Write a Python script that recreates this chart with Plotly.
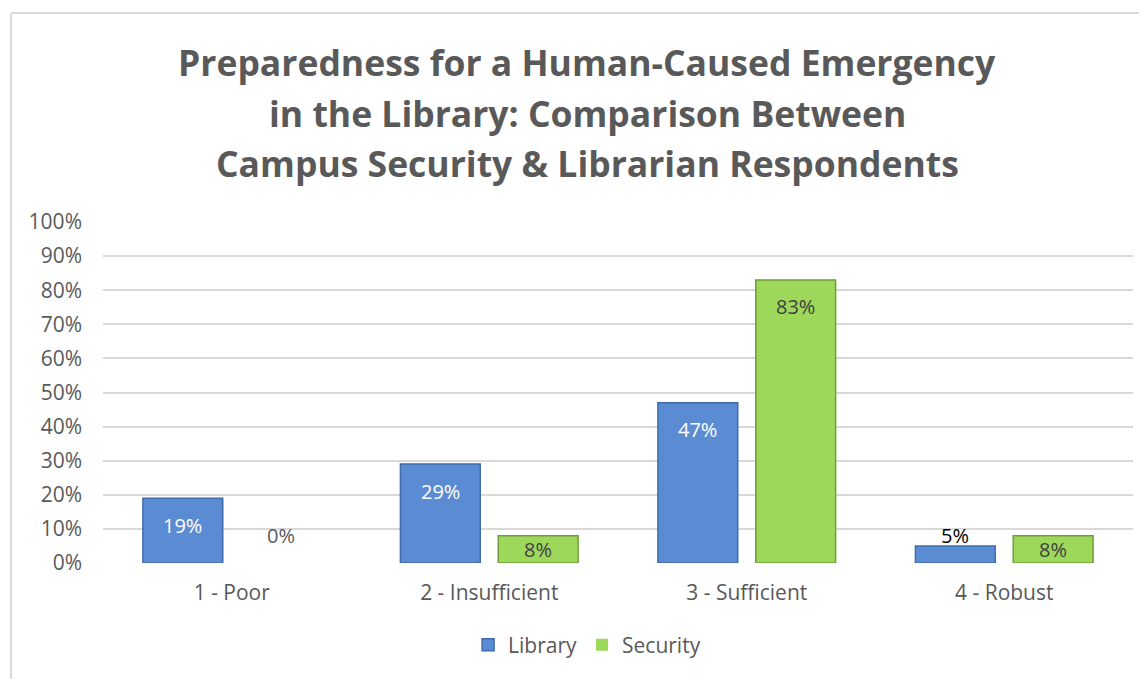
import plotly.graph_objects as go

categories = ["1 - Poor", "2 - Insufficient", "3 - Sufficient", "4 - Robust"]
library = [0.19, 0.29, 0.47, 0.05]
security = [0.00, 0.08, 0.83, 0.08]
title_lines = [
    "Preparedness for a Human-Caused Emergency",
    "in the Library: Comparison Between",
    "Campus Security & Librarian Respondents",
]
y_ticks = [i / 10 for i in range(11)]

W, H = 1147, 679
OFF = 8  # default page body margin
ML, MR, MT, MB = 103 - OFF, 14 + OFF, 222 - OFF, 116 + OFF
PH = H - MT - MB  # plot height in px
PW = W - ML - MR
BASE = H - MB     # baseline px in figure coords

FONT = "Open Sans"
GRAY = "#595959"
BAR_W = 0.31
series = [
    dict(name="Library", vals=library, offset=-0.345, color="#5B8CD3", line="#3F6BAA",
         in_col="#FFFFFF", out_col="#000000"),
    dict(name="Security", vals=security, offset=0.035, color="#9DD85B", line="#6E9E3A",
         in_col="#404040", out_col=GRAY),
]

xs = list(range(len(categories)))
fig = go.Figure()
annotations = []
for s in series:
    fig.add_trace(go.Bar(
        x=xs, y=s["vals"], name=s["name"], width=BAR_W, offset=s["offset"],
        marker=dict(color=s["color"],
                    line=dict(color=s["line"], width=[1.5 if v > 0 else 0 for v in s["vals"]])),
        hoverinfo="skip",
    ))
    for i, v in enumerate(s["vals"]):
        h = v * PH
        cx = i + s["offset"] + BAR_W / 2
        if h >= 50:
            y, ys, col = v, -27, s["in_col"]
        elif h >= 25:
            y, ys, col = v / 2, 0, s["in_col"]
        else:
            y, ys, col = 0, 28, s["out_col"]
        annotations.append(dict(
            x=cx, y=y, xref="x", yref="y", yshift=ys, text=f"{round(v*100)}%",
            showarrow=False, yanchor="middle", xanchor="center",
            font=dict(family=FONT, size=20, color=col),
        ))

title_px = [62, 113, 163]
title_cx = (587 - OFF - ML) / PW
for line, py in zip(title_lines, title_px):
    annotations.append(dict(
        x=title_cx, xref="paper", y=(BASE - (py - OFF)) / PH, yref="paper",
        text=f"<b>{line}</b>",
        showarrow=False, xanchor="center", yanchor="middle",
        font=dict(family=FONT, size=35.5, color=GRAY),
    ))

border_x = (11 - OFF - ML) / PW
border_y = (BASE - (13 - OFF)) / PH
shapes = [
    dict(type="line", xref="paper", yref="paper", x0=border_x, x1=border_x,
         y0=-1, y1=border_y, line=dict(color="#D9D9D9", width=2)),
    dict(type="line", xref="paper", yref="paper", x0=border_x, x1=1.2,
         y0=border_y, y1=border_y, line=dict(color="#D9D9D9", width=2)),
]

fig.update_layout(
    width=W, height=H,
    margin=dict(l=ML, r=MR, t=MT, b=MB),
    paper_bgcolor="white", plot_bgcolor="white",
    barmode="overlay",
    showlegend=True,
    legend=dict(orientation="h", x=0.47, xanchor="center", y=(BASE - (645 - OFF)) / PH,
                yanchor="middle", font=dict(family=FONT, size=21, color=GRAY),
                itemwidth=30, traceorder="normal"),
    annotations=annotations,
    shapes=shapes,
    font=dict(family=FONT, color=GRAY),
)
fig.update_xaxes(range=[-0.5, len(categories) - 0.5], tickvals=xs, ticktext=categories,
                 showgrid=False, zeroline=False, showline=False, ticks="",
                 tickfont=dict(family=FONT, size=21, color=GRAY), ticklabelstandoff=15)
fig.update_yaxes(range=[0, 1], tickvals=y_ticks, tickformat=".0%",
                 showgrid=True, gridcolor="#D9D9D9", gridwidth=1.5, zeroline=False,
                 showline=False, ticks="",
                 tickfont=dict(family=FONT, size=21, color=GRAY), ticklabelstandoff=20)

fig.write_html("out.html")
